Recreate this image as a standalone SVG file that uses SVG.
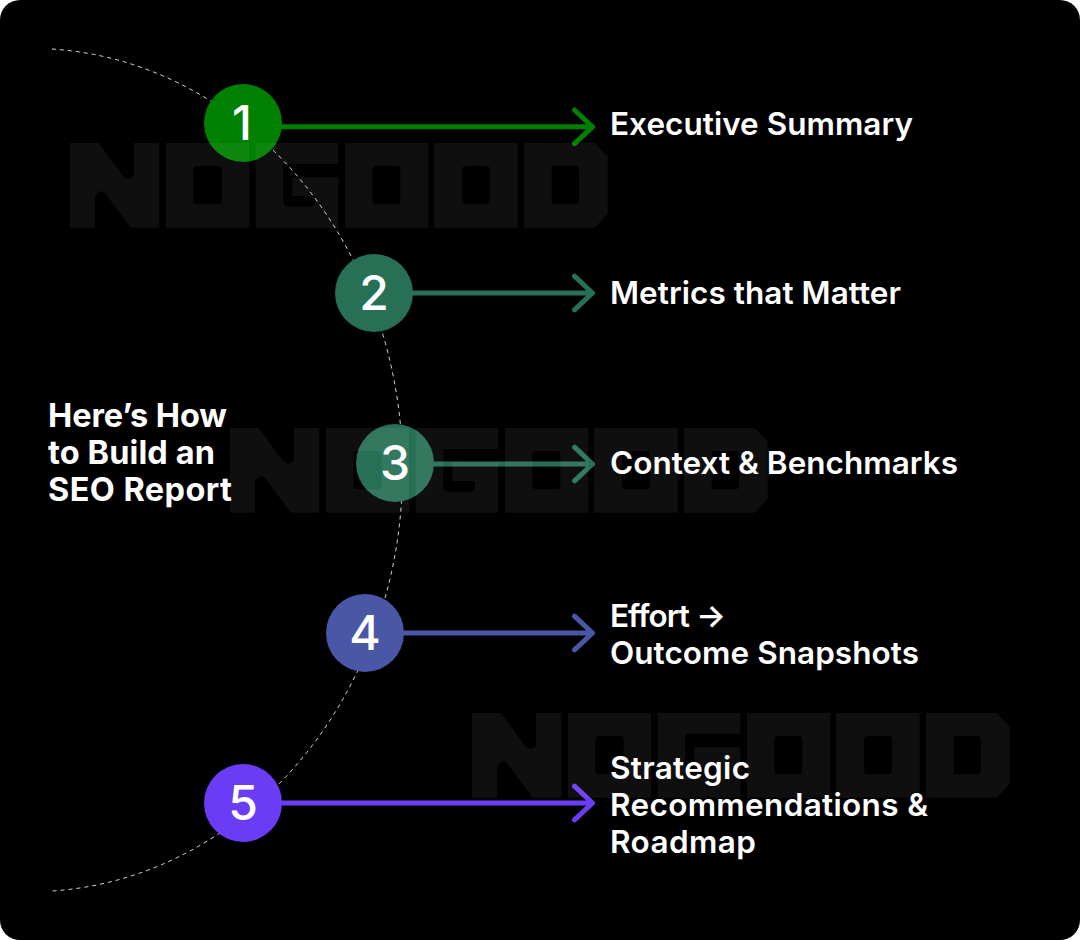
<svg xmlns="http://www.w3.org/2000/svg" width="1080" height="940" viewBox="0 0 1080 940">
<style>
.arrow{fill:none;stroke-width:5;stroke-linecap:round;stroke-linejoin:round}
.num{font:500 48px Inter,"Liberation Sans",sans-serif;fill:#fff;text-anchor:middle}
.lab{font:600 31.500px Inter,"Liberation Sans",sans-serif;fill:#fff}
.title{font:700 32.500px Inter,"Liberation Sans",sans-serif;fill:#fff}
.wm{fill:#fff;fill-opacity:.06;fill-rule:evenodd}
</style>
<defs>
<path id="logo" class="wm" d="M70 143H99L123 176Q129 182 134 175V143H159.300V227.700H130.700L105 193Q100 188 95 197V227.700H70Z
M166 143H249V227.700H166ZM197 166Q193.300 166 193.300 170V200Q193.300 204.300 197 204.300H218Q221.700 204.300 221.700 200V170Q221.700 166 218 166Z
M255.700 143H338.300V164H283.300V202Q283.300 206.700 288 206.700H311Q315 206.700 315 202V196H292.300V177.300H338.300V227.700H255.700Z
M345 143H428.300V227.700H345ZM376 166Q372.300 166 372.300 170V200Q372.300 204.300 376 204.300H396.600Q400.300 204.300 400.300 200V170Q400.300 166 396.600 166Z
M434 143H517.700V227.700H434ZM466 166Q462 166 462 170V200Q462 204.300 466 204.300H486Q490 204.300 490 200V170Q490 166 486 166Z
M524 143H595L607.700 156.700V213.300L595 227.700H524ZM551.700 166V204.300H575Q579 204.300 579 200V170Q579 166 575 166Z"/>
</defs>
<rect width="1080" height="940" rx="20" fill="#000"/>
<path id="arc" d="M52 49A372 421.700 0 0 1 52 891" fill="none" stroke="#fff" stroke-opacity=".85" stroke-width="1" stroke-dasharray="4 4"/>
<g id="connectors">
<path class="arrow" stroke="#008000" d="M280 126.800H592.500M574.500 110L592.500 126.800L574.500 143.600"/>
<path class="arrow" stroke="#277056" d="M411 293H592.500M574.500 276.200L592.500 293L574.500 309.800"/>
<path class="arrow" stroke="#277056" d="M432 464H592.500M574.500 447.200L592.500 464L574.500 480.800"/>
<path class="arrow" stroke="#4a56a6" d="M402 633H592.500M574.500 616.200L592.500 633L574.500 649.800"/>
<path class="arrow" stroke="#6a3cf5" d="M280 803H592.500M574.500 786.200L592.500 803L574.500 819.800"/>
</g>
<g id="node-1"><circle cx="243" cy="123" r="39" fill="#008000"/><text class="num" x="242" y="140">1</text></g>
<g id="node-2"><circle cx="374" cy="293" r="39" fill="#277056"/><text class="num" x="374" y="310">2</text></g>
<g id="node-3"><circle cx="395" cy="463" r="39" fill="#277056"/><text class="num" x="395" y="480">3</text></g>
<g id="node-4"><circle cx="365" cy="633" r="39" fill="#4a56a6"/><text class="num" x="365" y="650">4</text></g>
<g id="node-5"><circle cx="243" cy="803" r="39" fill="#6a3cf5"/><text class="num" x="243" y="820">5</text></g>
<use href="#logo"/>
<use href="#logo" x="160" y="285"/>
<use href="#logo" x="402" y="570"/>
<g id="title"><text class="title" x="48" y="427" textLength="179">Here’s How</text><text class="title" x="48" y="464" textLength="167">to Build an</text><text class="title" x="48" y="501" textLength="184">SEO Report</text></g>
<g id="label-1"><text class="lab" x="610" y="135" textLength="303">Executive Summary</text></g>
<g id="label-2"><text class="lab" x="610" y="304" textLength="291">Metrics that Matter</text></g>
<g id="label-3"><text class="lab" x="610" y="474" textLength="348">Context &amp; Benchmarks</text></g>
<g id="label-4"><text class="lab" x="610" y="627" textLength="116">Effort →</text><text class="lab" x="610" y="664" textLength="309">Outcome Snapshots</text></g>
<g id="label-5"><text class="lab" x="610" y="779" textLength="140">Strategic</text><text class="lab" x="610" y="816" textLength="318">Recommendations &amp;</text><text class="lab" x="610" y="853" textLength="146">Roadmap</text></g>
</svg>
